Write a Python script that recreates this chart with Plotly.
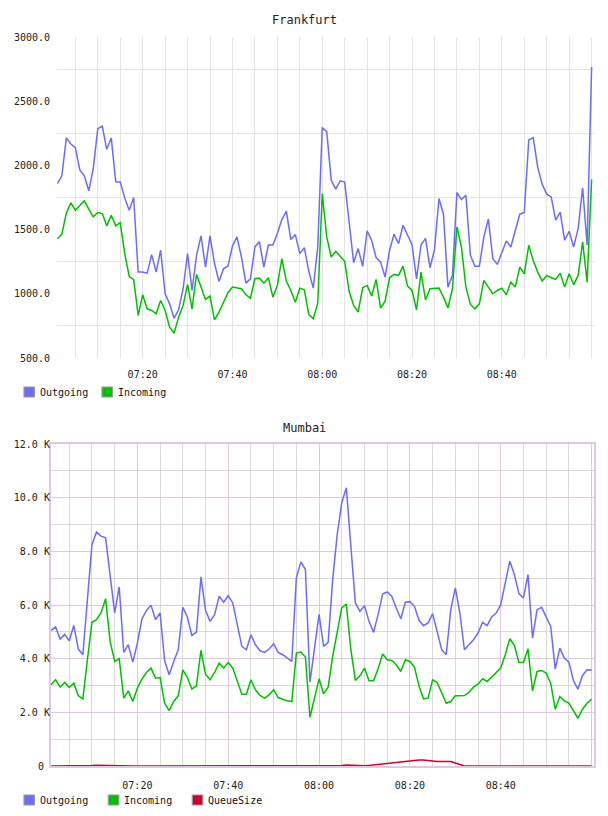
import pandas as pd
import plotly.graph_objects as go

# ---- data -------------------------------------------------------------
times = pd.date_range("2024-01-01 07:01", periods=120, freq="min")

fra_outgoing = [
    1859, 1919, 2214, 2167, 2138, 1964, 1919, 1802, 1977, 2286,
    2305, 2125, 2214, 1872, 1870, 1747, 1651, 1750, 1169, 1169,
    1161, 1305, 1169, 1339, 1000, 922, 810, 875, 1039, 1313,
    1026, 1300, 1451, 1208, 1451, 1237, 1096, 1195, 1216, 1372,
    1443, 1286, 1083, 1117, 1365, 1406, 1208, 1380, 1380, 1469,
    1578, 1643, 1422, 1461, 1313, 1359, 1177, 1044, 1365, 2294,
    2263, 1885, 1815, 1880, 1870, 1573, 1242, 1352, 1214, 1490,
    1417, 1281, 1247, 1130, 1339, 1464, 1391, 1534, 1456, 1383,
    1117, 1380, 1432, 1203, 1344, 1742, 1620, 1052, 1143, 1789,
    1734, 1768, 1300, 1214, 1214, 1443, 1583, 1273, 1229, 1326,
    1411, 1365, 1495, 1620, 1633, 2198, 2216, 1984, 1852, 1776,
    1755, 1573, 1636, 1417, 1487, 1365, 1508, 1826, 1380, 2766,
]
fra_incoming = [
    1430, 1464, 1630, 1708, 1651, 1685, 1724, 1659, 1599, 1633,
    1625, 1529, 1612, 1529, 1555, 1313, 1136, 1110, 831, 992,
    883, 870, 844, 948, 870, 740, 693, 818, 909, 1073,
    883, 1151, 1060, 956, 982, 797, 857, 927, 1008, 1052,
    1044, 1039, 992, 966, 1117, 1122, 1083, 1125, 974, 1065,
    1273, 1099, 1026, 935, 1044, 1031, 839, 805, 927, 1781,
    1443, 1286, 1331, 1292, 1253, 1018, 909, 857, 1047, 1065,
    982, 1112, 888, 943, 1125, 1151, 1143, 1216, 1060, 1026,
    875, 1169, 953, 1039, 1039, 1044, 974, 890, 1039, 1521,
    1365, 1052, 917, 883, 922, 1104, 1052, 1000, 1026, 1044,
    992, 1091, 1052, 1208, 1156, 1378, 1260, 1169, 1099, 1143,
    1125, 1112, 1161, 1052, 1156, 1070, 1143, 1404, 1091, 1891,
]

mum_outgoing = [
    5055, 5179, 4731, 4905, 4669, 5241, 4358, 4146, 6200, 8254,
    8715, 8566, 8503, 7196, 5702, 6673, 4233, 4519, 3872, 4582,
    5478, 5802, 5988, 5453, 5702, 3922, 3399, 3897, 4333, 5914,
    5553, 4868, 4992, 7047, 5802, 5391, 5640, 6325, 6101, 6350,
    6076, 5266, 4457, 4333, 4893, 4519, 4295, 4233, 4358, 4557,
    4233, 4146, 4021, 3897, 7009, 7607, 7321, 3125, 4395, 5650,
    4457, 4607, 6947, 8628, 9811, 10371, 8192, 6076, 5764, 5976,
    5391, 4980, 5640, 6412, 6486, 6325, 5889, 5490, 6101, 6125,
    5951, 5428, 5229, 5329, 5677, 4955, 4333, 4146, 5827, 6636,
    5702, 4333, 4519, 4706, 4955, 5354, 5229, 5553, 5702, 6013,
    6823, 7632, 7134, 6424, 6262, 7134, 4768, 5827, 5914, 5578,
    5204, 3611, 4395, 4021, 3872, 3187, 2864, 3374, 3586, 3573,
]
mum_incoming = [
    3025, 3212, 2938, 3113, 2926, 3088, 2615, 2502, 3959, 5354,
    5453, 5702, 6237, 4644, 3897, 3996, 2527, 2801, 2403, 2901,
    3237, 3486, 3648, 3274, 3299, 2341, 2067, 2403, 2615, 3586,
    3299, 2864, 2988, 4308, 3424, 3212, 3486, 3835, 3648, 3860,
    3648, 3125, 2677, 2677, 3212, 2839, 2627, 2527, 2652, 2839,
    2552, 2490, 2428, 2403, 4208, 4245, 4059, 1818, 2527, 3249,
    2689, 2938, 4084, 4918, 5889, 6038, 4333, 3187, 3361, 3648,
    3175, 3175, 3623, 4171, 3959, 3934, 3772, 3523, 3959, 3897,
    3685, 2988, 2502, 2527, 3212, 3113, 2739, 2341, 2403, 2615,
    2615, 2627, 2739, 2938, 3050, 3249, 3150, 3312, 3498, 3648,
    4146, 4743, 4494, 3860, 3860, 4370, 2801, 3523, 3561, 3461,
    3088, 2117, 2590, 2428, 2341, 2067, 1780, 2117, 2341, 2490,
]
mum_queue = [
    0, 0, 0, 0, 0, 0, 0, 0, 0, 20,
    30, 25, 10, 0, 0, 0, 0, 0, 0, 0,
    0, 0, 0, 0, 0, 0, 0, 0, 0, 0,
    0, 0, 0, 0, 0, 0, 0, 0, 0, 0,
    0, 0, 0, 0, 0, 0, 0, 0, 0, 0,
    0, 0, 0, 0, 0, 0, 0, 0, 0, 0,
    0, 0, 0, 0, 20, 35, 30, 5, 0, 5,
    20, 40, 60, 80, 100, 120, 140, 160, 180, 200,
    220, 225, 220, 200, 170, 165, 165, 170, 165, 110,
    40, 0, 0, 0, 0, 0, 0, 0, 0, 0,
    0, 0, 0, 0, 0, 0, 0, 0, 0, 0,
    0, 0, 0, 0, 0, 0, 0, 0, 0, 0,
]

fra_yticks = [500, 1000, 1500, 2000, 2500, 3000]
fra_ygrid = [750, 1250, 1750, 2250, 2750]
mum_yticks = [0, 2000, 4000, 6000, 8000, 10000, 12000]
mum_yticktext = ["0\u00a0", "2.0 K", "4.0 K", "6.0 K", "8.0 K", "10.0 K", "12.0 K"]

fra_series = ["Outgoing", "Incoming"]
mum_series = ["Outgoing", "Incoming", "QueueSize"]

C_OUT = "#6b6bff"
C_IN = "#00c000"
C_Q = "#cc0033"
series_colors = {"Outgoing": C_OUT, "Incoming": C_IN, "QueueSize": C_Q}

W, H = 608, 816
MONO = "DejaVu Sans Mono"

fig = go.Figure()

def add_line(name, x, y, xa, ya):
    fig.add_trace(go.Scatter(x=x, y=y, mode="lines", name=name,
                             line=dict(color=series_colors[name], width=1.5),
                             xaxis=xa, yaxis=ya, showlegend=False))

add_line("Outgoing", times, fra_outgoing, "x", "y")
add_line("Incoming", times, fra_incoming, "x", "y")
add_line("Outgoing", times, mum_outgoing, "x2", "y2")
add_line("Incoming", times, mum_incoming, "x2", "y2")
add_line("QueueSize", times, mum_queue, "x2", "y2")

# ---- hand-built legends (swatch + label), paper coordinates -----------
shapes, annotations = [], []

def legend_row(names, swatch_lefts, y_center):
    for name, x0 in zip(names, swatch_lefts):
        shapes.append(dict(type="rect", xref="paper", yref="paper",
                           x0=x0 / W, x1=(x0 + 10.5) / W,
                           y0=1 - (y_center + 5) / H, y1=1 - (y_center - 5) / H,
                           fillcolor=series_colors[name], line=dict(color="#999999", width=1.2)))
        annotations.append(dict(text=name, x=(x0 + 14.5) / W, y=1 - y_center / H,
                                xref="paper", yref="paper", xanchor="left", yanchor="middle",
                                showarrow=False, borderpad=0,
                                font=dict(family=MONO, size=10, color="#111")))

legend_row(fra_series, [24, 102], 392)
legend_row(mum_series, [24, 108.3, 192.3], 800)

annotations.append(dict(text="Frankfurt", x=0.5, y=1 - 20 / H, xref="paper", yref="paper",
                        xanchor="center", yanchor="middle", showarrow=False,
                        font=dict(family=MONO, size=12, color="#222")))
annotations.append(dict(text="Mumbai", x=0.5, y=1 - 428 / H, xref="paper", yref="paper",
                        xanchor="center", yanchor="middle", showarrow=False,
                        font=dict(family=MONO, size=12, color="#222")))

xrange = ["2024-01-01 07:00:55", "2024-01-01 09:00:32"]
tickfont = dict(family=MONO, size=10, color="#222")
GRAY = "#e4e4e4"
GRAY2 = "#d9d9d9"
PINK = "#e3c6e3"

common_x = dict(range=xrange, type="date", tickformat="%H:%M", dtick=1200000,
                tick0="2024-01-01 07:00", zeroline=False, ticks="", tickfont=tickfont,
                ticklabelstandoff=9, ticklabeloverflow="hide past domain", automargin=False)

fig.update_layout(
    width=W, height=H,
    margin=dict(l=0, r=0, t=0, b=0, pad=0, autoexpand=False),
    paper_bgcolor="white", plot_bgcolor="white",
    showlegend=False,
    xaxis=dict(domain=[57 / W, 594 / W], anchor="y", showgrid=True, gridcolor=GRAY,
               gridwidth=1, showline=False,
               minor=dict(dtick=300000, tick0="2024-01-01 07:00", showgrid=True,
                          gridcolor=GRAY, gridwidth=1), **common_x),
    yaxis=dict(domain=[1 - 358 / H, 1 - 37 / H], anchor="x", range=[500, 3000],
               tickvals=fra_yticks, tickformat=".1f", showgrid=False, zeroline=False,
               showline=False, ticks="", tickfont=tickfont, ticklabelstandoff=6,
               automargin=False,
               minor=dict(tickmode="array", tickvals=fra_ygrid, showgrid=True,
                          gridcolor=GRAY, gridwidth=1)),
    xaxis2=dict(domain=[50.7 / W, 594 / W], anchor="y2", showgrid=True, gridcolor=PINK,
                gridwidth=1, showline=True, linecolor=PINK, linewidth=1.5, mirror=True,
                minor=dict(dtick=300000, tick0="2024-01-01 07:00", showgrid=True,
                           gridcolor=GRAY2, gridwidth=1), **common_x),
    yaxis2=dict(domain=[1 - 766 / H, 1 - 444 / H], anchor="x2", range=[0, 12000],
                tickvals=mum_yticks, ticktext=mum_yticktext, showgrid=True,
                gridcolor=PINK, gridwidth=1, zeroline=False,
                showline=True, linecolor=PINK, linewidth=1.5, mirror=True,
                ticks="", tickfont=tickfont, ticklabelstandoff=-3, automargin=False,
                minor=dict(dtick=1000, tick0=0, showgrid=True, gridcolor=GRAY2, gridwidth=1)),
    shapes=shapes,
    annotations=annotations,
)

fig.write_html("out.html")
